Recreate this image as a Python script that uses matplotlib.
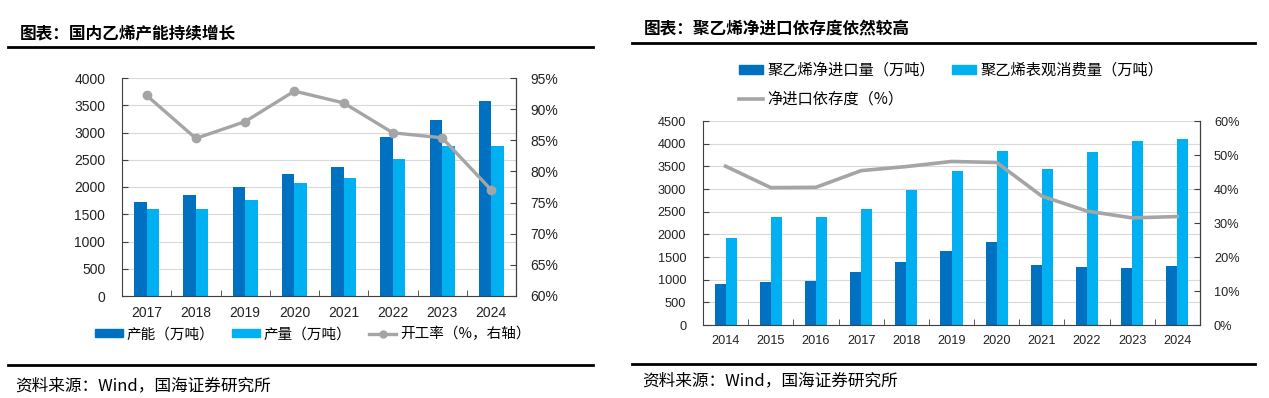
import matplotlib
matplotlib.use("Agg")
import matplotlib.pyplot as plt
from matplotlib.lines import Line2D
from matplotlib.patches import Patch
from matplotlib.ticker import FuncFormatter
import numpy as np

plt.rcParams['font.family'] = ['Liberation Sans', 'Noto Sans CJK SC', 'DejaVu Sans']
CJK = ['Noto Sans CJK SC', 'DejaVu Sans']

# 左图：国内乙烯产能
years_l = ['2017', '2018', '2019', '2020', '2021', '2022', '2023', '2024']
capacity = [1720, 1860, 2000, 2235, 2370, 2915, 3225, 3575]
output = [1590, 1590, 1765, 2070, 2160, 2510, 2755, 2755]
util_rate = [92.2, 85.3, 88.0, 92.9, 91.0, 86.2, 85.4, 77.0]

# 右图：聚乙烯净进口依存度
years_r = ['2014', '2015', '2016', '2017', '2018', '2019', '2020', '2021', '2022', '2023', '2024']
net_import = [895, 955, 970, 1160, 1380, 1630, 1830, 1315, 1280, 1265, 1305]
consumption = [1910, 2385, 2385, 2560, 2975, 3405, 3840, 3435, 3825, 4060, 4105]
dependence = [46.7, 40.4, 40.5, 45.4, 46.6, 48.1, 47.8, 37.9, 33.5, 31.5, 31.9]

DARK = '#0070C0'
LIGHT = '#00B0F0'
GRAY = '#A5A5A5'
SPINE = '#404040'
TXT = '#222222'
W, H = 1269, 398

fig = plt.figure(figsize=(W / 100, H / 100), dpi=100)


def px_axes(x0, y0, x1, y1):
    return fig.add_axes([x0 / W, 1 - y1 / H, (x1 - x0) / W, (y1 - y0) / H])


def hline(x0, x1, y, lw=2.0):
    fig.add_artist(Line2D([x0 / W, x1 / W], [1 - y / H, 1 - y / H],
                          transform=fig.transFigure, color='black', lw=lw))


def style_axes(ax, ax2, n, fs):
    ax.set_axisbelow(True)
    ax.grid(axis='y', color='#D9D9D9', lw=0.8)
    ax.spines['top'].set_visible(False)
    ax2.spines['top'].set_visible(False)
    for sp in ['left', 'bottom']:
        ax.spines[sp].set_color(SPINE)
    ax2.spines['right'].set_color(SPINE)
    ax2.spines['left'].set_visible(False)
    ax2.spines['bottom'].set_visible(False)
    ax.set_xlim(-0.5, n - 0.5)
    ax.set_xticks(np.arange(n))
    ax.set_xticks(np.arange(n + 1) - 0.5, minor=True)
    ax.tick_params(axis='x', which='major', length=0, pad=7, labelsize=fs, colors=TXT)
    ax.tick_params(axis='x', which='minor', length=4, direction='in', color=SPINE)
    ax.tick_params(axis='y', length=4, direction='in', color=SPINE, labelsize=fs,
                   labelcolor=TXT, pad=12)
    ax2.tick_params(axis='y', length=4, direction='in', color=SPINE, labelsize=fs,
                    labelcolor=TXT, pad=10)
    ax2.yaxis.set_major_formatter(FuncFormatter(lambda v, p: '%d%%' % round(v)))


# ---------------- 左图 ----------------
ax = px_axes(122, 78, 516, 296)
ax2 = ax.twinx()
x = np.arange(len(years_l))
bw = 0.255
ax.bar(x - bw / 2, capacity, bw, color=DARK)
ax.bar(x + bw / 2, output, bw, color=LIGHT)
ax.set_ylim(0, 4000)
ax.set_yticks(np.arange(0, 4001, 500))
ax.set_xticks(x)
ax.set_xticklabels(years_l)
ax2.plot(x, util_rate, color=GRAY, lw=2.4, marker='o', ms=6)
ax2.set_ylim(60, 95)
ax2.set_yticks(np.arange(60, 96, 5))
style_axes(ax, ax2, len(years_l), 10)

fig.text(20 / W, 1 - 33 / H, '图表：国内乙烯产能持续增长', family=CJK, fontsize=12,
         fontweight='bold', va='center', ha='left')
hline(8, 593, 46.7)
hline(8, 593, 365)
fig.text(15 / W, 1 - 386 / H, '资料来源：Wind，国海证券研究所', family=CJK, fontsize=12,
         va='center', ha='left')

h_l = [Patch(color=DARK), Patch(color=LIGHT),
       Line2D([], [], color=GRAY, lw=2.4, marker='o', ms=5)]
fig.legend(h_l, ['产能（万吨）', '产量（万吨）', '开工率（%，右轴）'],
           loc='center', bbox_to_anchor=(313 / W, 1 - 334 / H), ncol=3, frameon=False,
           prop={'family': CJK, 'size': 10.5}, handlelength=1.9, handleheight=0.45,
           handletextpad=0.25, columnspacing=1.2)

# ---------------- 右图 ----------------
bx = px_axes(703, 121, 1200, 325)
bx2 = bx.twinx()
xr = np.arange(len(years_r))
bw = 0.245
bx.bar(xr - bw / 2, net_import, bw, color=DARK)
bx.bar(xr + bw / 2, consumption, bw, color=LIGHT)
bx.set_ylim(0, 4500)
bx.set_yticks(np.arange(0, 4501, 500))
bx.set_xticks(xr)
bx.set_xticklabels(years_r)
bx2.plot(xr, dependence, color=GRAY, lw=2.6)
bx2.set_ylim(0, 60)
bx2.set_yticks(np.arange(0, 61, 10))
style_axes(bx, bx2, len(years_r), 9.2)

fig.text(644 / W, 1 - 29 / H, '图表：聚乙烯净进口依存度依然较高', family=CJK, fontsize=12,
         fontweight='bold', va='center', ha='left')
hline(632, 1255, 42.7)
hline(632, 1255, 364)
fig.text(642 / W, 1 - 381 / H, '资料来源：Wind，国海证券研究所', family=CJK, fontsize=12,
         va='center', ha='left')

h_r = [Patch(color=DARK), Line2D([], [], color=GRAY, lw=2.6), Patch(color=LIGHT)]
fig.legend(h_r, ['聚乙烯净进口量（万吨）', '净进口依存度（%）', '聚乙烯表观消费量（万吨）'],
           loc='upper left', bbox_to_anchor=(739 / W, 1 - 62 / H), ncol=2, frameon=False,
           prop={'family': CJK, 'size': 11}, handlelength=1.6, handleheight=0.45,
           handletextpad=0.25, columnspacing=1.1, labelspacing=0.75,
           borderpad=0, borderaxespad=0)

fig.savefig('out.png', dpi=100)
